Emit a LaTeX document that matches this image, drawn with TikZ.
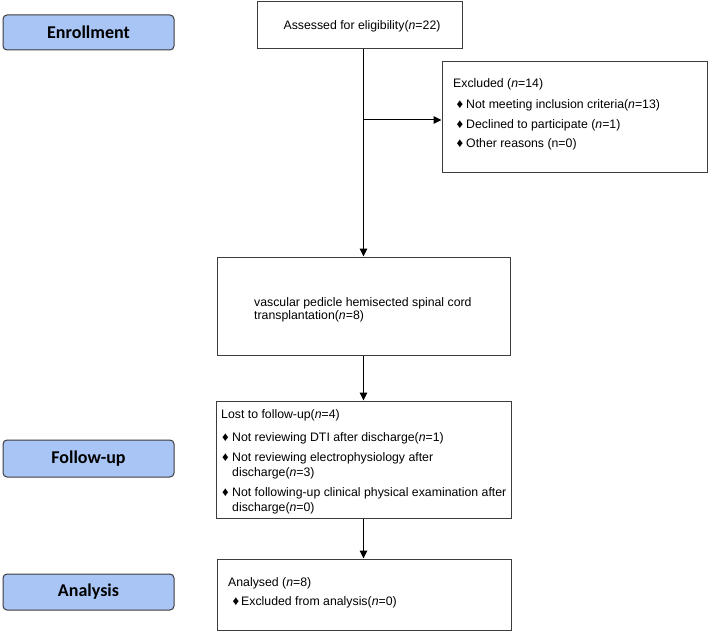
\documentclass[tikz,border=0pt]{standalone}
\usepackage{fontspec}
\setmainfont{Liberation Sans}
\newfontfamily\stagefont{Carlito}
\usetikzlibrary{arrows.meta}
\definecolor{stageblue}{RGB}{168,197,245}
\definecolor{edgegray}{RGB}{60,60,60}
\begin{document}
\begin{tikzpicture}[x=1pt,y=-1pt,
  flowbox/.style={draw=edgegray, line width=1pt, fill=white, inner sep=0pt, font=\fontsize{12.3}{15}\selectfont},
  stagebox/.style={draw=edgegray, line width=1pt, fill=stageblue, rounded corners=4pt, minimum width=171pt, inner sep=0pt, font=\stagefont\bfseries\fontsize{18}{20}\selectfont},
  txt/.style={anchor=base west, inner sep=0pt, font=\fontsize{12.3}{15}\selectfont},
  bul/.style={anchor=base west, inner sep=0pt, font=\fontsize{13}{15}\selectfont},
  conn/.style={draw=black, line width=1pt, -{Triangle[length=8pt,width=7.5pt]}}
]
\useasboundingbox (0,0) rectangle (709,631);

% stage labels
\node[stagebox, minimum height=35pt] (enroll) at (88.5,32.5) {Enrollment};
\node[stagebox, minimum height=37pt] (follow) at (88.5,458.5) {Follow-up};
\node[stagebox, minimum height=36pt] (analysis) at (88.5,592) {Analysis};

% boxes
\node[flowbox, minimum width=205pt, minimum height=47pt] (assess) at (359.5,25.5) {};
\node[txt, anchor=base] (assesstxt) at (362,30) {Assessed for eligibility(\textit{n}=22)};
\node[flowbox, minimum width=265pt, minimum height=111pt] (excl) at (574.5,117.5) {};
\node[flowbox, minimum width=293pt, minimum height=98pt] (trans) at (363.5,306) {};
\node[flowbox, minimum width=295pt, minimum height=117pt] (lost) at (363.5,459.5) {};
\node[flowbox, minimum width=294pt, minimum height=71pt] (anal) at (364,594.5) {};

% excluded text
\node[txt] (ex0) at (453,88) {Excluded (\textit{n}=14)};
\node[bul] (exb1) at (456.5,109) {♦};
\node[txt] (ex1) at (466,109) {Not meeting inclusion criteria(\textit{n}=13)};
\node[bul] (exb2) at (456.5,129) {♦};
\node[txt] (ex2) at (466,129) {Declined to participate (\textit{n}=1)};
\node[bul] (exb3) at (456.5,147.5) {♦};
\node[txt] (ex3) at (466,147.5) {Other reasons (n=0)};

% transplant text
\node[txt] (tr1) at (254,306) {vascular pedicle hemisected spinal cord};
\node[txt] (tr2) at (254,319.5) {transplantation(\textit{n}=8)};

% lost text
\node[txt] (lo0) at (221,418) {Lost to follow-up(\textit{n}=4)};
\node[bul] (lob1) at (222,441) {♦};
\node[txt] (lo1) at (232,441) {Not reviewing DTI after discharge(\textit{n}=1)};
\node[bul] (lob2) at (222,461) {♦};
\node[txt] (lo2) at (232,461) {Not reviewing electrophysiology after};
\node[txt] (lo2b) at (232,476) {discharge(\textit{n}=3)};
\node[bul] (lob3) at (222,496) {♦};
\node[txt] (lo3) at (232,496) {Not following-up clinical physical examination after};
\node[txt] (lo3b) at (232,511) {discharge(\textit{n}=0)};

% analysed text
\node[txt] (an0) at (228,586) {Analysed (\textit{n}=8)};
\node[bul] (anb1) at (232.5,605) {♦};
\node[txt] (an1) at (241,605) {Excluded from analysis(\textit{n}=0)};

% connectors
\coordinate (branch) at (363.5,120);
\draw[line width=1pt] (assess.south -| trans.north) -- (branch);
\draw[conn] (branch) -- (trans.north);
\draw[conn] (branch) -- (branch -| excl.west);
\draw[conn] (trans.south) -- (lost.north);
\draw[conn] (lost.south) -- (lost.south |- anal.north);
\end{tikzpicture}
\end{document}
